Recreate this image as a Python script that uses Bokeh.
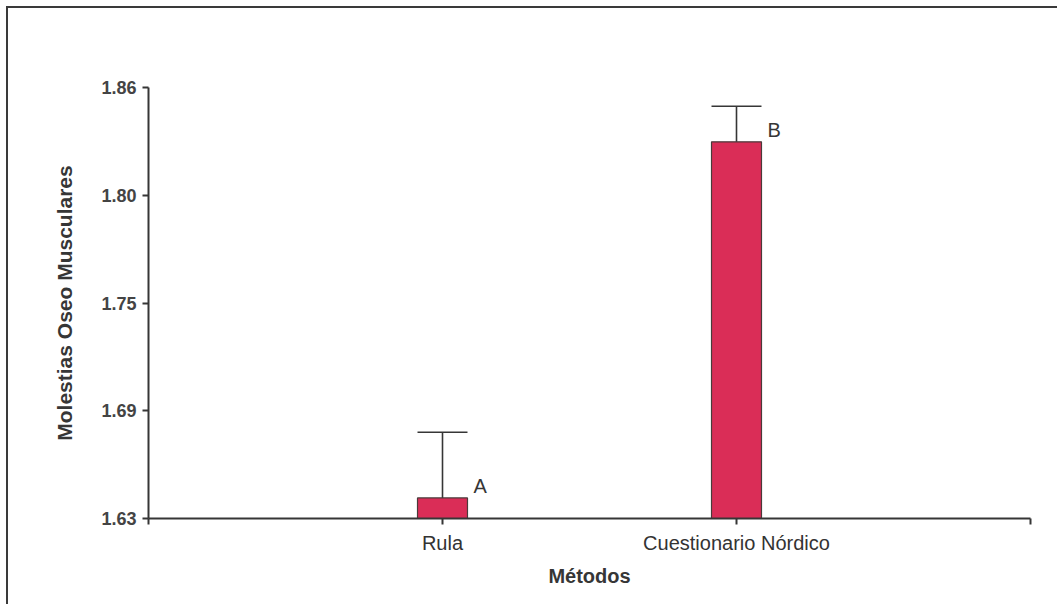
from bokeh.plotting import figure
from bokeh.models import Range1d, FixedTicker, ColumnDataSource
from bokeh.core.properties import value
from bokeh.embed import file_html
from bokeh.resources import INLINE

# Mean musculoskeletal complaints per assessment method
methods = ["Rula", "Cuestionario Nórdico"]
means = [1.641, 1.831]
errors = [0.035, 0.019]
groups = ["A", "B"]

y_ticks = [1.63, 1.6875, 1.745, 1.8025, 1.86]
y_tick_labels = ["1.63", "1.69", "1.75", "1.80", "1.86"]

FONT = "Liberation Sans"
INK = "#363636"
BAR = "#DA2D57"
BAR_W = 0.17

pos = [i + 1 for i in range(len(methods))]
upper = [m + e for m, e in zip(means, errors)]
src = ColumnDataSource(dict(
    x=pos,
    mean=means,
    upper=upper,
    left=[x - BAR_W / 2 for x in pos],
    right=[x + BAR_W / 2 for x in pos],
    lx=[x + BAR_W / 2 for x in pos],
    grp=groups,
))

p = figure(
    width=1051, height=598,
    x_range=Range1d(0, len(methods) + 1),
    y_range=Range1d(y_ticks[0], y_ticks[-1]),
    output_backend="svg", toolbar_location=None,
    min_border_left=140, min_border_right=29,
    min_border_top=79, min_border_bottom=88,
    background_fill_color="white", border_fill_color="white",
)
p.margin = (6, 0, 0, 6)
p.styles = {"border-left": "2px solid #3a3a3a", "border-top": "2px solid #3a3a3a"}
p.outline_line_color = None
p.grid.visible = False

# bars
p.vbar(x="x", top="mean", bottom=y_ticks[0], width=BAR_W, source=src,
       fill_color=BAR, line_color="#4a3a3a", line_width=1.2)

# upper error whiskers with caps as wide as the bars
p.segment(x0="x", y0="mean", x1="x", y1="upper", source=src,
          line_color=INK, line_width=1.6)
p.segment(x0="left", y0="upper", x1="right", y1="upper", source=src,
          line_color=INK, line_width=1.6)

# significance letters
p.text(x="lx", y="mean", text="grp", source=src, x_offset=6, y_offset=-12,
       text_font=value(FONT), text_font_size="20px", text_color=INK,
       text_align="left", text_baseline="alphabetic")

# y axis
ya = p.yaxis[0]
ya.ticker = FixedTicker(ticks=y_ticks)
ya.major_label_overrides = {t: s for t, s in zip(y_ticks, y_tick_labels)}
ya.axis_label = "Molestias Oseo Musculares"
ya.axis_label_text_font = FONT
ya.axis_label_text_font_size = "21px"
ya.axis_label_text_font_style = "bold"
ya.axis_label_text_color = INK
ya.axis_label_standoff = 22
ya.major_label_text_font = FONT
ya.major_label_text_font_size = "18px"
ya.major_label_text_font_style = "bold"
ya.major_label_text_color = "#444444"
ya.major_label_standoff = 6

# x axis
xa = p.xaxis[0]
x_ticks = [0] + pos + [len(methods) + 1]
xa.ticker = FixedTicker(ticks=x_ticks)
overrides = {0: "", len(methods) + 1: ""}
overrides.update({x: m for x, m in zip(pos, methods)})
xa.major_label_overrides = overrides
xa.axis_label = "Métodos"
xa.axis_label_text_font = FONT
xa.axis_label_text_font_size = "20px"
xa.axis_label_text_font_style = "bold"
xa.axis_label_text_color = INK
xa.axis_label_standoff = 8
xa.major_label_text_font = FONT
xa.major_label_text_font_size = "20px"
xa.major_label_text_color = "#333333"
xa.major_label_standoff = 7

for ax in (xa, ya):
    ax.axis_line_color = INK
    ax.axis_line_width = 2
    ax.major_tick_line_color = INK
    ax.major_tick_line_width = 2
    ax.major_tick_in = 0
    ax.major_tick_out = 6
    ax.minor_tick_line_color = None

open("out.html", "w").write(file_html(p, INLINE))
